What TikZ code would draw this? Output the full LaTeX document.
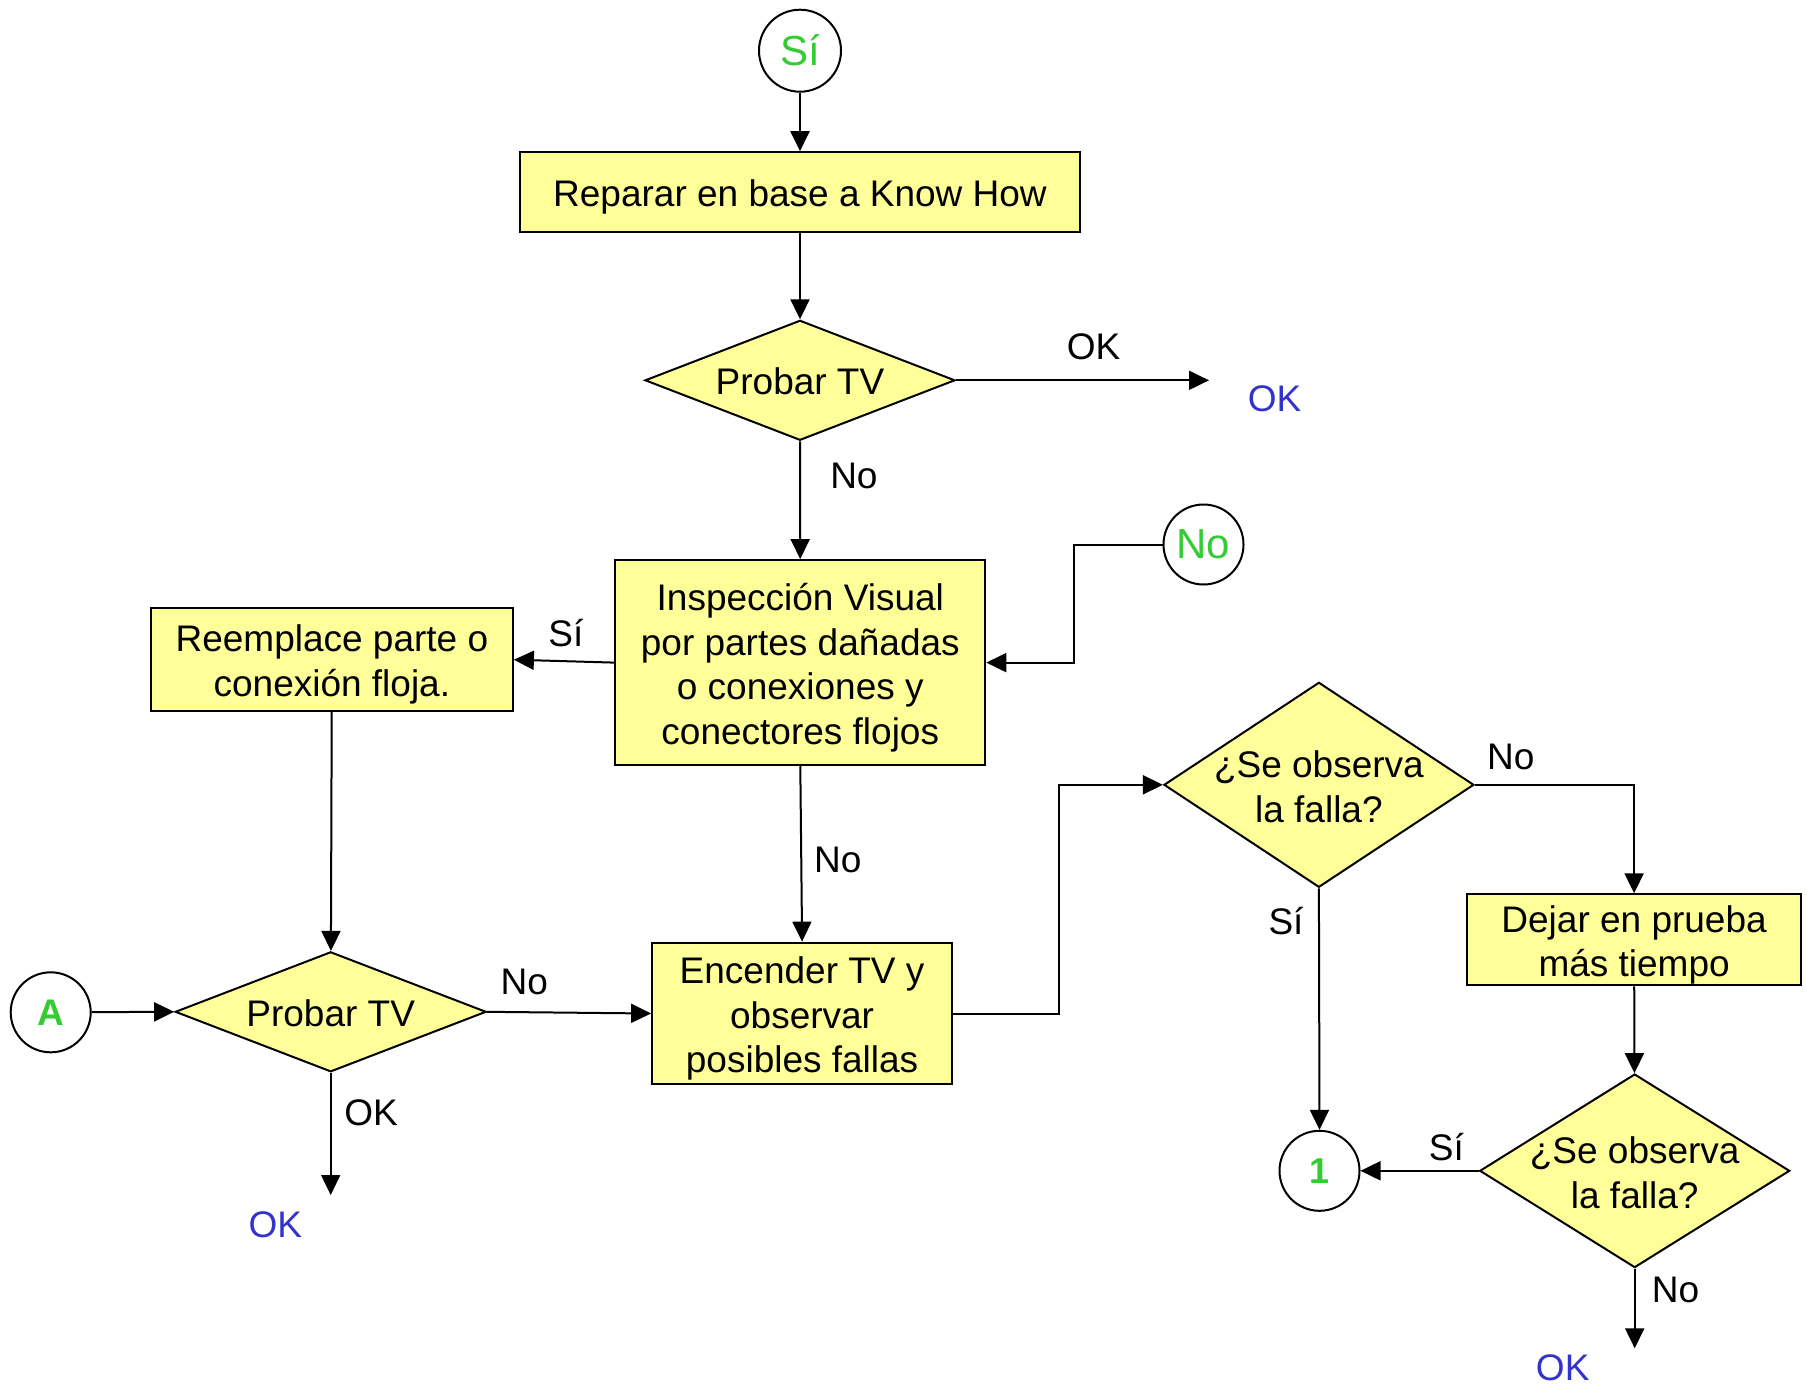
\documentclass[tikz,border=0pt]{standalone}
\usepackage{fontspec}
\setmainfont{Liberation Sans}
\usetikzlibrary{arrows.meta,shapes.geometric}
\definecolor{boxyellow}{HTML}{FFFF99}
\definecolor{txtgreen}{HTML}{33CC33}
\definecolor{txtblue}{HTML}{3333CC}
\tikzset{
  base/.style={line width=2pt},
  txt/.style={font=\fontsize{37}{44.6}\selectfont},
  proc/.style={base, draw, fill=boxyellow, inner sep=0pt},
  intext/.style={txt, align=center, inner sep=0pt, yshift=-5pt},
  dtext/.style={txt, align=center, inner sep=0pt, yshift=-2pt},
  dec/.style={base, draw, diamond, fill=boxyellow, inner sep=0pt},
  conn/.style={base, draw, circle, inner sep=0pt, minimum size=80pt, fill=white},
  lbl/.style={txt, inner sep=0pt},
  oklbl/.style={txt, inner sep=0pt, text=txtblue},
  arr/.style={base, -{Triangle[length=20pt,width=19pt]}},
}
\begin{document}
\begin{tikzpicture}[x=1pt,y=-1pt]
\useasboundingbox (0,0) rectangle (1807,1385);

% nodes
\node[conn, minimum size=82pt, font=\fontsize{42}{50}\selectfont, text=txtgreen] (si) at (800,50.7) {Sí};
\node[proc, minimum width=560pt, minimum height=79.6pt,
  label={[intext]center:Reparar en base a Know How}] (rep) at (800,192) {};
\node[dec, minimum width=310pt, minimum height=120pt,
  label={[dtext,yshift=1pt]center:Probar TV}] (p1) at (800,380.3) {};
\coordinate (ok1e) at (1209,380.3);
\node[oklbl] (ok1) at (1274.6,398.7) {OK};
\node[proc, minimum width=370pt, minimum height=205pt,
  label={[intext]center:Inspección Visual\\por partes dañadas\\o conexiones y\\conectores flojos}] (insp) at (800.3,662.6) {};
\node[conn, font=\fontsize{42}{50}\selectfont, text=txtgreen] (nocirc) at (1203.5,544.5) {No};
\coordinate (nojoint) at (1074,544.5);
\node[proc, minimum width=362pt, minimum height=102.6pt,
  label={[intext]center:Reemplace parte o\\conexión floja.}] (reem) at (331.9,659.7) {};
\node[dec, minimum width=311pt, minimum height=120pt,
  label={[dtext,yshift=1pt]center:Probar TV}] (p2) at (330.7,1011.8) {};
\node[conn, font=\bfseries\fontsize{37}{44}\selectfont, text=txtgreen] (A) at (50.7,1012.3) {A};
\node[proc, minimum width=300pt, minimum height=141.7pt,
  label={[intext]center:Encender TV y\\observar\\posibles fallas}] (enc) at (802.1,1013.5) {};
\coordinate (ok2e) at (330.7,1195);
\node[oklbl] (ok2) at (275.4,1225) {OK};
\node[dec, minimum width=310pt, minimum height=205pt,
  label={[dtext]center:¿Se observa\\la falla?}] (d1) at (1318.9,784.8) {};
\node[proc, minimum width=334pt, minimum height=91pt,
  label={[intext]center:Dejar en prueba\\más tiempo}] (dej) at (1634.1,939.8) {};
\node[dec, minimum width=310pt, minimum height=193.6pt,
  label={[dtext]center:¿Se observa\\la falla?}] (d2) at (1634.7,1170.8) {};
\node[conn, font=\bfseries\fontsize{36}{42}\selectfont, text=txtgreen] (one) at (1319.5,1170.8) {1};
\coordinate (ok3e) at (1634.7,1348.3);
\node[oklbl] (ok3) at (1562.7,1367.9) {OK};

% connectors
\draw[arr] (si) -- (rep);
\draw[arr] (rep) -- (p1);
\draw[arr] (p1.east) -- (ok1e);
\draw[arr] (p1) -- (insp);
\draw[arr] (nocirc.west) -- (nojoint) |- (insp.east);
\draw[arr] (insp.west) -- (reem.east);
\draw[arr] (reem) -- (p2);
\draw[arr] (A) -- (p2.west);
\draw[arr] (p2.east) -- (enc.west);
\draw[arr] (p2.south) -- (ok2e);
\draw[arr] (insp.south) -- (enc.north);
\draw[arr] (enc.east) -- ++(106,0) |- (d1.west);
\draw[arr] (d1.east) -| (dej.north);
\draw[arr] (d1.south) -- (one.north);
\draw[arr] (dej) -- (d2);
\draw[arr] (d2.west) -- (one.east);
\draw[arr] (d2.south) -- (ok3e);

% edge labels
\node[lbl] (lok1) at (1093.6,346.9) {OK};
\node[lbl] (lno1) at (853.9,475.9) {No};
\node[lbl] (lsi1) at (565.8,632.7) {Sí};
\node[lbl] (lno2) at (837.8,859.7) {No};
\node[lbl] (lno3) at (524.3,981.8) {No};
\node[lbl] (lok2) at (371.1,1113.2) {OK};
\node[lbl] (lno4) at (1510.8,757.1) {No};
\node[lbl] (lsi2) at (1286,920.8) {Sí};
\node[lbl] (lsi3) at (1446.3,1146.6) {Sí};
\node[lbl] (lno5) at (1675.6,1289.5) {No};
\end{tikzpicture}
\end{document}
